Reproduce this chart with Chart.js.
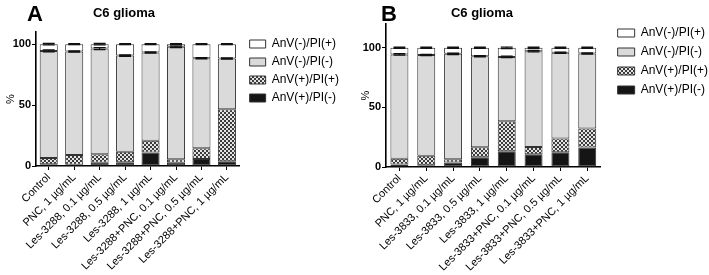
<!DOCTYPE html>
<html>
<head>
<meta charset="utf-8">
<script src="https://cdn.jsdelivr.net/npm/chart.js@4.4.1/dist/chart.umd.min.js"></script>
<style>
    html, body { margin: 0; padding: 0; background: #fff; }
    body { width: 709px; height: 275px; position: relative; overflow: hidden; font-family: "Liberation Sans", Arial, sans-serif; }
    .panel { position: absolute; top: 0; height: 275px; }
    .letter { position: absolute; font-weight: bold; font-size: 22px; line-height: 22px; color: #000; }
    .title { position: absolute; font-weight: bold; font-size: 13px; line-height: 14px; color: #000; transform: translateX(-50%); white-space: nowrap; }
</style>
</head>
<body>
<div class="panel" style="left:0;width:355px"><canvas id="chartA" width="355" height="275"></canvas></div>
<div class="panel" style="left:355px;width:370px"><canvas id="chartB" width="370" height="275"></canvas></div>
<div class="letter" style="left:27px;top:3px">A</div>
<div class="title" style="left:124px;top:6px">C6 glioma</div>
<div class="letter" style="left:381px;top:3px">B</div>
<div class="title" style="left:482px;top:6px">C6 glioma</div>
<script>
    const legendLabels = ["AnV(+)/PI(-)", "AnV(+)/PI(+)", "AnV(-)/PI(-)", "AnV(-)/PI(+)"];

    const categoriesA = ["Control", "PNC, 1 µg/mL", "Les-3288, 0.1 µg/mL", "Les-3288, 0.5 µg/mL",
        "Les-3288, 1 µg/mL", "Les-3288+PNC, 0.1 µg/mL", "Les-3288+PNC, 0.5 µg/mL", "Les-3288+PNC, 1 µg/mL"];
    const blackA = [1.5, 1.0, 2.7, 3.0, 11.0, 2.7, 5.8, 3.9];
    const dottedA = [5.0, 8.0, 7.0, 8.6, 9.7, 2.8, 8.8, 42.6];
    const grayA = [88.0, 85.0, 86.7, 79.1, 72.4, 92.3, 73.8, 41.7];
    const whiteA = [5.5, 6.0, 3.6, 9.3, 6.9, 2.2, 11.6, 11.8];
    const sdGrayA = [0.8, 0.5, 0.8, 0.6, 0.5, 0.6, 0.5, 0.5];
    const sdWhiteA = [0.6, 0.4, 0.6, 0.4, 0.4, 0.4, 0.4, 0.4];

    const categoriesB = ["Control", "PNC, 1 µg/mL", "Les-3833, 0.1 µg/mL", "Les-3833, 0.5 µg/mL",
        "Les-3833, 1 µg/mL", "Les-3833+PNC, 0.1 µg/mL", "Les-3833+PNC, 0.5 µg/mL", "Les-3833+PNC, 1 µg/mL"];
    const blackB = [2.0, 1.5, 3.7, 8.1, 13.2, 10.7, 12.4, 16.3];
    const dottedB = [5.0, 8.0, 2.8, 8.4, 25.2, 6.1, 11.5, 16.0];
    const grayB = [87.5, 84.4, 88.5, 76.5, 54.0, 80.4, 71.9, 63.0];
    const whiteB = [5.5, 6.1, 5.0, 7.0, 7.6, 2.8, 4.2, 4.7];
    const sdGrayB = [0.6, 0.5, 0.6, 0.5, 0.6, 0.6, 0.5, 0.5];
    const sdWhiteB = [0.5, 0.5, 0.5, 0.5, 0.6, 0.5, 0.5, 0.5];

    const yTicks = [0, 50, 100];

    var FONT = "'Liberation Sans', Arial, sans-serif";

    function makePattern() {
        var c = document.createElement("canvas");
        c.width = c.height = 4;
        var ctx = c.getContext("2d");
        ctx.fillStyle = "#e4e4e4";
        ctx.fillRect(0, 0, 4, 4);
        ctx.fillStyle = "#3c3c3c";
        ctx.fillRect(0, 0, 2, 2);
        ctx.fillRect(2, 2, 2, 2);
        return ctx.createPattern(c, "repeat");
    }

    // little SD whiskers on top of the grey and white segments
    var errorBars = {
        id: "errorBars",
        afterDatasetsDraw(chart, args, opts) {
            var ctx = chart.ctx,
                y = chart.scales.y;
            ctx.save();
            ctx.strokeStyle = "#111";
            ctx.lineWidth = 1.3;
            [[2, opts.gray], [3, opts.white]].forEach(pair => {
                var meta = chart.getDatasetMeta(pair[0]);
                meta.data.forEach((bar, i) => {
                    var top = y.getValueForPixel(bar.y),
                        sd = pair[1][i],
                        y1 = y.getPixelForValue(top + sd),
                        y2 = y.getPixelForValue(top - sd),
                        half = bar.width * 0.33;
                    ctx.beginPath();
                    ctx.moveTo(bar.x, y1);
                    ctx.lineTo(bar.x, y2);
                    ctx.moveTo(bar.x - half, y1);
                    ctx.lineTo(bar.x + half, y1);
                    ctx.moveTo(bar.x - half, y2);
                    ctx.lineTo(bar.x + half, y2);
                    ctx.stroke();
                });
            });
            ctx.restore();
        }
    };

    // nudge the legend block a few pixels after layout
    var legendShift = {
        id: "legendShift",
        afterLayout(chart, args, opts) {
            chart.legend.left += opts.dx;
            chart.legend.top += opts.dy;
        }
    };

    function makeChart(id, cfg) {
        var pattern = makePattern();
        var fills = ["#151515", pattern, "#dadada", "#ffffff"];
        var series = [cfg.black, cfg.dotted, cfg.gray, cfg.white];

        var datasets = series.map((values, idx) => ({
            label: legendLabels[idx],
            data: values,
            backgroundColor: fills[idx],
            borderColor: "#333",
            borderWidth: 1,
            borderSkipped: false,
            barPercentage: cfg.barPct,
            categoryPercentage: 1
        }));

        return new Chart(document.getElementById(id), {
            type: "bar",
            data: { labels: cfg.categories, datasets: datasets },
            plugins: [errorBars, legendShift],
            options: {
                responsive: false,
                animation: false,
                layout: { padding: { top: cfg.top, left: 0, right: cfg.right, bottom: 0 } },
                plugins: {
                    tooltip: { enabled: false },
                    errorBars: { gray: cfg.sdGray, white: cfg.sdWhite },
                    legendShift: { dx: cfg.legendDx, dy: cfg.legendDy },
                    legend: {
                        position: "right",
                        align: "start",
                        reverse: true,
                        maxWidth: 160,
                        labels: {
                            color: "#000",
                            boxWidth: cfg.legendBox,
                            boxHeight: 8,
                            padding: cfg.legendPad,
                            font: { family: FONT, size: cfg.legendSize }
                        }
                    }
                },
                scales: {
                    x: {
                        stacked: true,
                        border: { display: true, color: "#000", width: 1.6 },
                        grid: { display: true, drawOnChartArea: false, drawTicks: true, tickLength: 4, color: "#000", offset: false },
                        ticks: {
                            color: "#000",
                            minRotation: 45,
                            maxRotation: 45,
                            padding: 1,
                            font: { family: FONT, size: 11 }
                        },
                        afterFit(scale) { scale.height = 275 - cfg.bottom; }
                    },
                    y: {
                        stacked: true,
                        min: 0,
                        max: cfg.max,
                        border: { display: true, color: "#000", width: 1.6 },
                        grid: { display: true, drawOnChartArea: false, drawTicks: true, tickLength: 4, color: "#000" },
                        ticks: {
                            stepSize: 50,
                            color: "#000",
                            padding: 1,
                            font: { family: FONT, size: 11, weight: "bold" }
                        },
                        afterBuildTicks(scale) {
                            scale.ticks = yTicks.map(v => ({ value: v }));
                        },
                        title: {
                            display: true,
                            text: "%",
                            color: "#000",
                            padding: { top: 4, bottom: 0 },
                            font: { family: FONT, size: 11 }
                        },
                        afterFit(scale) { scale.width = cfg.left; }
                    }
                }
            }
        });
    }

    makeChart("chartA", {
        categories: categoriesA,
        black: blackA, dotted: dottedA, gray: grayA, white: whiteA,
        sdGray: sdGrayA, sdWhite: sdWhiteA,
        max: 110, top: 32, bottom: 166, left: 36, right: 10,
        barPct: 0.71, legendSize: 12, legendBox: 16, legendPad: 6, legendDx: 4, legendDy: 0
    });

    makeChart("chartB", {
        categories: categoriesB,
        black: blackB, dotted: dottedB, gray: grayB, white: whiteB,
        sdGray: sdGrayB, sdWhite: sdWhiteB,
        max: 120, top: 24, bottom: 167, left: 31, right: 17,
        barPct: 0.67, legendSize: 12, legendBox: 17, legendPad: 7, legendDx: 10, legendDy: -4
    });
</script>
</body>
</html>
